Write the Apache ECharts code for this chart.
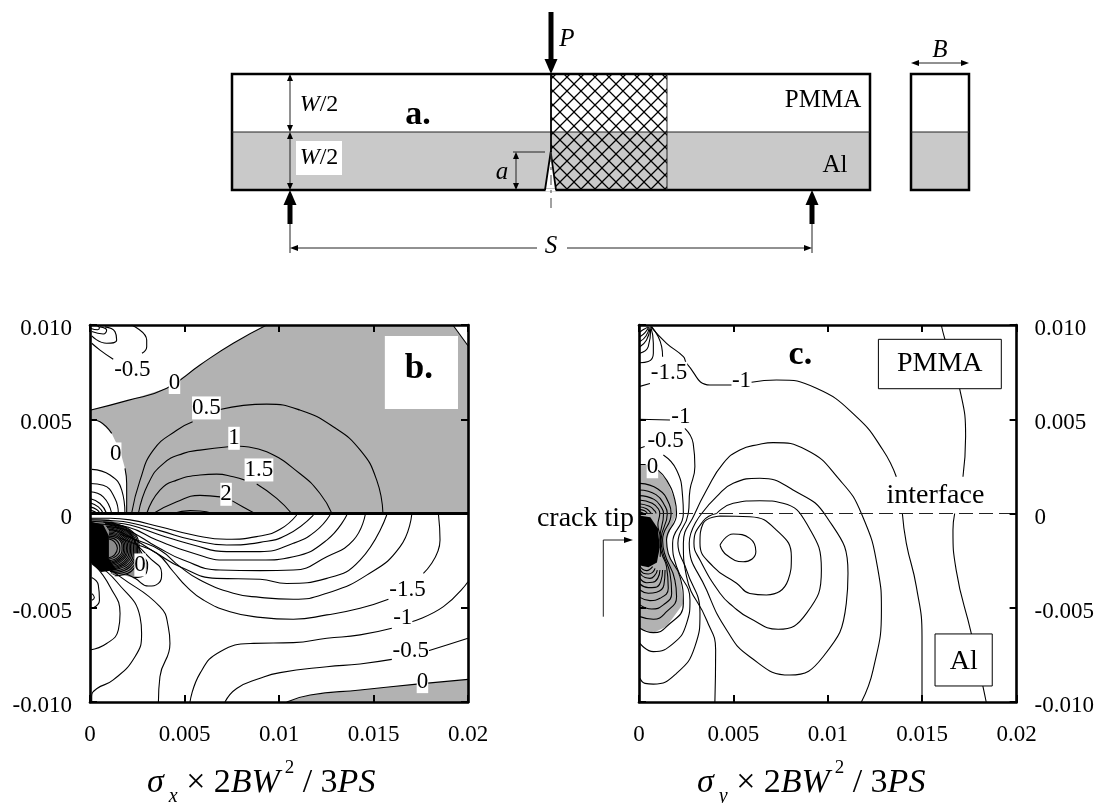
<!DOCTYPE html>
<html><head><meta charset="utf-8">
<style>html,body{margin:0;padding:0;background:#fff}#c{width:1097px;height:803px}</style>
<script src="https://cdn.jsdelivr.net/npm/echarts@6/dist/echarts.min.js"></script>
</head><body><div id="c"></div>
<script>
// ---------- tick labels ----------
const xTickLabels = ['0','0.005','0.01','0.015','0.02'];
const yTickLabels = ['-0.010','-0.005','0','0.005','0.010'];

// ---------- panel b (values in units of 0.001) ----------
const bGrayUpper = [[0,5.48],[2,6.0],[4.06,6.64],[5.82,7.88],[7.58,9.03],[9.35,10],[19.2,10],[20,8.9],[20,0],[1.94,0],[1.94,1.6],[1.85,2.4],[1.6,3.3],[1.15,4.25],[.53,4.87],[0,5.0]];
const bGrayLower = [[0,-.25],[1.0,-.3],[2.1,-1.0],[2.85,-2.3],[3.05,-2.7],[2.95,-3.2],[2.3,-3.4],[1.4,-3.2],[.4,-2.6],[0,-2.4]];
const bGrayBottom = [[10.41,-10],[11.65,-9.63],[14.29,-9.36],[17.29,-9.05],[20,-8.8],[20,-10]];
const bBlack = [[0,-.42],[.7,-.6],[1.0,-1.2],[1.0,-2.4],[1.4,-3.0],[.6,-3.1],[.1,-2.7],[0,-2.5]];
const bContoursUpper = [
 [[0,5.48],[2,6.0],[4.06,6.64],[5.82,7.88],[7.58,9.03],[9.35,10]],
 [[19.2,10],[20,8.9]],
 [[1.94,0],[1.94,1.6],[1.85,2.4]],
 [[1.15,4.25],[.53,4.87],[0,5.0]],
 [[2.2,0],[2.65,1.77],[3.35,3.36],[4.59,4.42],[5.43,4.87]],
 [[6.88,5.52],[9.35,5.8],[11.1,5.49],[12.87,4.6],[14.3,3.36],[15.17,1.77],[15.5,0]],
 [[2.56,0],[3.09,1.6],[3.88,2.65],[4.94,3.19],[5.82,3.36],[7.32,3.54]],
 [[7.94,3.57],[9.35,3.27],[11.1,2.12],[12.17,1.06],[12.8,0]],
 [[3.0,0],[3.7,1.24],[4.59,1.77],[5.82,2.04],[6.7,2.09],[7.58,1.95],[8.2,1.77]],
 [[8.82,1.56],[9.88,.8],[10.67,0]],
 [[3.35,0],[4.59,.62],[5.82,.96],[6.88,.88]],
 [[7.53,.67],[8.1,.35],[8.73,0]],
 [[4.4,0],[5.3,.15],[5.82,.13],[6.5,0]],
 [[.1,2.34],[1.06,2.04],[1.68,1.24],[1.85,0]],
 [[0,1.59],[.7,1.5],[1.32,.8],[1.5,0]],
 [[0,1.15],[.7,.88],[1.15,0]],
 [[0,.8],[.53,.53],[.88,0]],
 [[0,.57],[.44,.35],[.7,0]],
 [[0,.35],[.35,.21],[.53,0]],
 [[0,.18],[.26,.09],[.35,0]],
 [[2.2,10],[3.0,9.2],[3.0,8.85],[2.75,8.5]],
 [[.09,9.03],[.53,8.67],[1.23,8.18]],
 [[.09,9.42],[.88,9.03],[1.41,9.2],[1.32,9.65],[.79,9.9]],
 [[.09,9.65],[.7,9.52],[.88,9.73],[.53,9.9]],
 [[.05,9.82],[.4,9.75],[.5,9.85],[.3,10]]
];
const bContoursLower = [
 [[0,-.25],[1.06,-.25],[2.12,-.34],[3.7,-.7],[5.47,-1.14],[7.23,-1.37],[9,-1.19],[10.06,-.84],[10.94,-.08]],
 [[0,-.33],[1.06,-.38],[2.12,-.49],[3.7,-.91],[5.47,-1.41],[7.23,-1.67],[9,-1.53],[10.41,-1.14],[11.82,-.08]],
 [[0,-.41],[1.06,-.48],[2.12,-.61],[3.7,-1.14],[5.47,-1.67],[7.23,-2.02],[9,-2.02],[10.76,-1.58],[11.91,-.96],[12.7,-.08]],
 [[0,-.5],[1,-.6],[2.03,-.73],[3.53,-1.41],[5.47,-2.11],[7.23,-2.47],[9,-2.47],[10.76,-2.29],[12.53,-1.41],[13.59,-.08]],
 [[.9,-.7],[1.94,-.88],[3.53,-1.76],[4.94,-2.47],[6.88,-3.0],[9,-3.03],[10.76,-3.0],[12.53,-2.29],[13.94,-1.41],[14.56,-.08]],
 [[1.0,-.85],[1.76,-1.05],[3.53,-2.11],[4.76,-2.82],[6.7,-3.44],[9,-3.49],[10.41,-3.71],[12.53,-3.44],[14.29,-2.47],[15.7,-.08]],
 [[1.6,-1.1],[2.47,-1.41],[3.7,-1.94],[4.76,-2.82],[5.82,-3.53],[7.58,-4.23],[9,-4.45],[10.76,-4.55],[12.53,-4.23],[14.64,-3.27],[16.41,-1.76],[17.02,-.08]],
 [[1.6,-1.3],[2.29,-1.58],[3.53,-2.11],[4.41,-3.09],[5.11,-3.88],[6,-4.59],[7.41,-5.21],[9,-5.51],[10.76,-5.61],[12.53,-5.38],[14.29,-5.03],[15.79,-4.55]],
 [[17.64,-3.18],[18.52,-1.41],[18.44,-.08]],
 [[5.29,-10],[5.82,-8.48],[6.88,-7.33],[8.64,-6.89],[10.76,-6.85],[12.53,-6.62],[14.29,-6.44],[15.97,-6.09]],
 [[17.02,-5.74],[18.7,-4.94],[20,-3.62]],
 [[7.14,-10],[7.76,-9.28],[9,-8.74],[10.06,-8.44],[12.53,-8.13],[14.29,-7.98],[15.97,-7.74]],
 [[17.91,-7.28],[18.88,-6.98],[20,-6.62]],
 [[10.41,-10],[11.65,-9.63],[14.29,-9.36],[17.29,-9.05],[20,-8.8]],
 [[2.4,-1.6],[3.09,-2.29],[3.79,-3.17],[3.62,-3.71],[3.09,-3.85],[2.38,-3.44],[1.9,-3.2]],
 [[2.1,-1.0],[2.85,-2.3],[3.05,-2.7],[2.95,-3.2],[2.3,-3.4]],
 [[.53,-2.6],[1.59,-3.35],[3.7,-4.94],[4.14,-6.0],[4.23,-6.9],[3.7,-8.66],[3.62,-10]],
 [[.35,-2.7],[1.41,-3.62],[2.65,-5.5],[2.73,-6.36],[2.38,-7.6],[1.23,-8.83],[.35,-9.3],[.09,-9.7],[.09,-10]],
 [[.26,-2.75],[1.06,-3.88],[1.59,-5.3],[1.5,-6.18],[.88,-6.9],[0,-7.24]],
 [[.09,-3.4],[.44,-3.8],[.5,-4.6],[.18,-5.0]],
 [[.1,-4.25],[.23,-4.45],[.1,-4.6]],
 [[1.0,-1.35],[1.3,-1.5],[1.45,-1.85],[1.3,-2.2],[1.0,-2.35]],
 [[1.0,-1.28],[1.4,-1.42],[1.58,-1.85],[1.4,-2.25],[1.0,-2.42]],
 [[1.0,-1.2],[1.5,-1.35],[1.7,-1.85],[1.5,-2.3],[1.0,-2.5]],
 [[1.0,-1.12],[1.55,-1.3],[1.78,-1.85],[1.55,-2.35],[1.0,-2.58]],
 [[1.0,-1.05],[1.6,-1.25],[1.85,-1.85],[1.6,-2.4],[1.0,-2.65]],
 [[1.0,-.98],[1.65,-1.2],[1.93,-1.85],[1.65,-2.45],[1.0,-2.72]],
 [[1.0,-.9],[1.7,-1.15],[2.0,-1.85],[1.7,-2.5],[1.0,-2.78]],
 [[.95,-.82],[1.75,-1.1],[2.08,-1.85],[1.78,-2.55],[1.0,-2.84]],
 [[.9,-.75],[1.8,-1.05],[2.15,-1.85],[1.85,-2.6],[1.0,-2.9]],
 [[.85,-.68],[1.85,-1.0],[2.22,-1.85],[1.92,-2.65],[1.0,-2.95]],
 [[.8,-.6],[1.9,-.95],[2.3,-1.85],[2.0,-2.7],[1.0,-3.0]],
 [[.8,-.56],[1.95,-.92],[2.38,-1.85],[2.05,-2.78],[1.05,-3.08]],
 [[.8,-.52],[2.0,-.9],[2.45,-1.85],[2.1,-2.85],[1.1,-3.15]],
 [[.75,-.48],[2.05,-.87],[2.52,-1.85],[2.15,-2.95],[1.2,-3.22]],
 [[.7,-.45],[2.1,-.85],[2.6,-1.85],[2.2,-3.05],[1.3,-3.3]]
];
const bLabels = [['-0.5',2.24,7.62],['0',4.47,6.95],['0.5',6.16,5.6],['1',7.62,3.99],['1.5',8.94,2.31],['2',7.2,1.02],['0',1.36,3.16],['0',2.65,-2.73],['-1.5',16.8,-4.06],['-1',16.55,-5.56],['-0.5',16.97,-7.3],['0',17.59,-8.92]];
const bLetterBox = [[15.6,9.42],[19.47,9.42],[19.47,5.54],[15.6,5.54]];
const bLetter = [['b.',17.4,7.65]];
const bInterface = [[0,0],[20,0]];

// ---------- panel c (values in units of 0.001) ----------
const cGray = [[0,2.6],[.35,2.6],[1.0,2.3],[1.46,1.78],[1.9,.72],[1.99,0],[1.46,-1.41],[1.55,-2.11],[2.17,-3.35],[2.35,-4.77],[1.46,-6.0],[.76,-6.32],[.05,-6.09],[0,-6.0]];
const cBlack = [[0,-.1],[.6,-.2],[1.0,-.8],[1.1,-1.8],[.95,-2.6],[.5,-2.85],[0,-2.75]];
const cContours = [
 [[16.01,10],[16.19,9.29],[16.98,6.64],[17.3,4.08],[17.16,1.95]],
 [[16.72,0],[16.63,-.88],[16.8,-3],[17.6,-6.36],[18.22,-9.19],[18.39,-10]],
 [[.62,9.91],[1.46,9.03],[2.35,8.32],[2.52,7.97],[3.76,6.82],[4.9,6.82]],
 [[5.96,6.96],[7.28,7.08],[9.4,6.64],[11.51,5.14],[12.92,3.37],[13.63,1.95]],
 [[13.95,0],[14.16,-1.58],[14.69,-3.88],[14.99,-6.53],[14.99,-10]],
 [[4.02,-10],[4.06,-7.24],[3.58,-5.65],[2.52,-3.35],[2.35,-1.58],[2.96,0],[3.58,1.25],[4.46,2.66],[5.34,3.37],[6.4,3.67],[7.1,3.76],[8.87,3.37],[10.63,1.78],[11.78,0],[12.66,-3.0],[12.84,-5.12],[12.4,-8.3],[11.78,-10]],
 [[3.32,0],[4.11,.89],[4.99,1.6],[6.4,1.87],[8.16,1.25],[9.93,-.17],[11.07,-3.17],[10.98,-4.77],[9.75,-7.6],[7.99,-8.57],[5.87,-7.6],[4.64,-6.18],[3.58,-4.06],[2.66,-1.58],[3.32,0]],
 [[4.11,0],[4.99,.54],[6.4,.68],[7.63,.54],[8.87,-.52],[9.66,-3.0],[8.87,-5.3],[7.37,-6.14],[5.87,-5.56],[4.99,-4.94],[4.29,-4.23],[3.23,-2.47],[2.91,-1.58],[3.4,-.4],[4.11,0]],
 [[4.29,-.13],[5.87,-.17],[7.28,-.88],[8.07,-2.29],[7.9,-3.53],[6.75,-4.32],[5.87,-4.24],[5.17,-3.7],[3.93,-2.82],[3.23,-1.58],[3.4,-.52],[4.29,-.13]],
 [[4.29,-1.67],[4.99,-1.09],[5.87,-1.32],[6.19,-2.02],[5.52,-2.56],[4.64,-2.2],[4.29,-1.67]],
 [[0,2.6],[.35,2.6]],
 [[1.0,2.3],[1.46,1.78],[1.9,.72],[1.99,0],[1.46,-1.41],[1.55,-2.11],[2.17,-3.35],[2.35,-4.77],[1.46,-6.0],[.76,-6.32],[.05,-6.09]],
 [[1.29,3.1],[1.99,2.31],[2.31,.89],[2.35,0],[1.78,-1.58],[1.99,-2.82],[2.7,-4.59],[2.52,-5.83],[1.82,-6.89],[.76,-7.33],[.05,-6.89]],
 [[0,3.45],[.3,3.55]],
 [[2.43,4.52],[2.87,3.72],[2.96,2.49],[2.7,1.25],[2.61,0],[2.06,-1.58],[2.52,-3],[3.23,-5.3],[2.96,-7.06],[1.99,-8.48],[.76,-9.05],[.32,-9.01],[.05,-8.74]],
 [[0,5.0],[1.64,4.96]],
 [[0,6.73],[.58,6.9]],
 [[.67,9.91],[1.2,8.85],[1.25,8.32]],
 [[.05,8.0],[.49,8.06],[.76,8.5],[.76,9.03],[.62,9.91]],
 [[.05,8.5],[.49,8.85],[.62,9.82]],
 [[.05,8.85],[.4,9.2],[.58,9.82]],
 [[.05,9.12],[.37,9.42],[.55,9.88]],
 [[.05,9.38],[.32,9.6],[.51,9.88]],
 [[.05,9.63],[.26,9.77],[.49,9.9]],
 [[.05,1.6],[1.0,1.3],[1.6,.5],[1.7,0],[1.25,-1.41],[1.35,-2.11],[1.9,-3.53],[1.99,-4.41],[1.46,-5.21],[.76,-5.61],[.05,-5.47]],
 [[0,1.25],[.9,1.0],[1.4,.35],[1.5,0],[1.17,-1.4],[1.27,-2.1],[1.64,-3.17],[1.73,-4.23],[1.29,-4.85],[.67,-5.07],[.05,-4.85]],
 [[0,.95],[.8,.75],[1.2,.3],[1.3,0],[1.1,-1.4],[1.2,-2.1],[1.46,-2.82],[1.55,-3.97],[1.11,-4.5],[.58,-4.62],[.05,-4.45]],
 [[0,.72],[.7,.55],[1.05,.2],[1.1,0],[1.0,-.6],[1.15,-1.4],[1.12,-2.3]],
 [[0,.52],[.55,.38],[.85,.12],[.9,0]],
 [[0,.36],[.4,.25],[.65,0]],
 [[0,.22],[.3,.14],[.45,0]],
 [[0,.1],[.15,.05],[.25,0]],
 [[1.38,-3.0],[1.32,-3.79],[.93,-4.18],[.49,-4.23],[.05,-4.06]],
 [[1.25,-3.0],[1.15,-3.62],[.85,-3.92],[.49,-3.93],[.05,-3.74]],
 [[1.11,-3.0],[.99,-3.44],[.72,-3.65],[.41,-3.67],[.05,-3.44]],
 [[.97,-3.0],[.85,-3.26],[.58,-3.44],[.32,-3.4],[.05,-3.17]],
 [[.85,-2.91],[.72,-3.12],[.49,-3.21],[.23,-3.17],[.05,-2.96]],
 [[.72,-2.82],[.58,-2.96],[.41,-3.03],[.19,-2.96],[.05,-2.78]]
];
const cLabels = [['-1.5',1.59,7.44],['-1',2.22,5.14],['-0.5',1.41,3.85],['0',.71,2.48],['-1',5.43,7.03]];
const cLetter = [['c.',8.55,8.41]];
const cBoxPMMA = [[12.68,9.24],[19.19,9.24],[19.19,6.62],[12.68,6.62]];
const cBoxAl = [[15.68,-6.39],[18.71,-6.39],[18.71,-9.15],[15.68,-9.15]];
const cBigLabels = [['PMMA',15.93,7.93],['Al',17.2,-7.85],['interface',15.7,.95]];
const cInterface = [[0,0],[20,0]];

// ---------- schematic, panel a (drawing units) ----------
const beamLowerHalf = [[232,132],[870,132],[870,190],[232,190]];
const beamOutline = [[232,74],[870,74],[870,190],[232,190]];
const hatchZone = [[551,74],[667,74],[667,190],[551,190]];
const notch = [[545,190],[550.7,152],[556,190]];
const notchBase = [[545.5,189],[555.5,189],[555.5,191.5],[545.5,191.5]];
const sideOutline = [[911,74],[969,74],[969,190],[911,190]];
const sideLowerHalf = [[911,132],[969,132],[969,190],[911,190]];
const wLabelBox = [[296,141],[342,141],[342,175],[296,175]];
const thinLines = [
 [[232,132],[870,132]],[[911,132],[969,132]],
 [[290,78],[290,128]],[[290,136],[290,186]],
 [[513,152],[545,152]],[[516,156],[516,186]],
 [[290,224],[290,253]],[[812,224],[812,253]],
 [[296,248],[537,248]],[[567,248],[806,248]],
 [[917,63],[963,63]],[[667,74],[667,190]]
];
const thickShafts = [[[551,12],[551,60]],[[290,204],[290,224]],[[812,204],[812,224]]];
const edgeLines = [[[551,74],[551,152]],[[545,190],[550.7,152],[556,190]]];
const arrowHeads = [
 [[544.5,59],[557.5,59],[551,74]],
 [[283.5,205],[296.5,205],[290,190]],[[805.5,205],[818.5,205],[812,190]],
 [[287,81],[293,81],[290,74]],[[287,125],[293,125],[290,132]],
 [[287,139],[293,139],[290,132]],[[287,183],[293,183],[290,190]],
 [[513,159],[519,159],[516,152]],[[513,183],[519,183],[516,190]],
 [[298,245],[298,251],[290,248]],[[804,245],[804,251],[812,248]],
 [[919,60],[919,66],[911,63]],[[961,60],[961,66],[969,63]]
];
const centerDash = [[551,152],[551,213]];
const aBig = [['a.',418,115]];
const aNames = [['PMMA',823,100],['Al',835,165]];
const aItalic = [['P',567,39],['S',551,246],['a',502,172],['B',940,50]];
const aW = [['{i|W}/2',319,105],['{i|W}/2',319,158]];
const crackArrowPath = [[603.3,616.7],[603.3,540],[626,540]];
const crackArrowHead = [[624,537],[624,543],[633,540]];
const crackLabel = [['crack tip',585.5,519]];

// ---------- build ----------
const FONT = '"Liberation Serif","Times New Roman",serif';
const milli = p => [p[0]/1000, p[1]/1000];
const same = p => p;
const series = [];

function addLine(pts, ax, conv, o){
  o = o || {};
  series.push({type:'line', xAxisIndex:ax, yAxisIndex:ax, data:pts.map(conv), showSymbol:false, symbol:'none',
    smooth:o.smooth||0, silent:true, animation:false, z:o.z||3, clip:true,
    lineStyle:{color:o.color||'#000', width:o.width||1.1, type:o.type||'solid', cap:'butt', join:'round'}});
}
function addPoly(pts, ax, conv, o){
  const p = pts.map(conv);
  series.push({type:'custom', xAxisIndex:ax, yAxisIndex:ax, data:[p[0]], silent:true, animation:false, z:o.z||1,
    renderItem:function(params, api){
      return {type:'polygon', shape:{points:p.map(q=>api.coord(q))},
        style:{fill:o.fill||'none', stroke:o.stroke||'none', lineWidth:o.lw||0}};
    }});
}
function addText(list, ax, conv, o){
  series.push({type:'scatter', xAxisIndex:ax, yAxisIndex:ax, symbolSize:1, silent:true, animation:false, z:o.z||6,
    itemStyle:{color:'transparent',opacity:1},
    data:list.map(t=>({name:t[0], value:conv([t[1],t[2]])})),
    label:{show:true, position:'inside', formatter:p=>p.name, color:'#000', opacity:1, fontFamily:FONT,
      fontSize:o.size||23, fontWeight:o.weight||'normal', fontStyle:o.style||'normal',
      backgroundColor:o.bg||'transparent', padding:0, lineHeight:o.lh||o.size||23, rich:o.rich}});
}

// hatch pattern tile
const tile = document.createElement('canvas'); tile.width = 14; tile.height = 14;
(function(){const g=tile.getContext('2d'); g.strokeStyle='#000'; g.lineWidth=1.25;
 g.beginPath(); g.moveTo(0,0); g.lineTo(14,14); g.moveTo(14,0); g.lineTo(0,14); g.stroke();})();
const hatch = {image:tile, repeat:'repeat'};

// panel a
addPoly(beamLowerHalf,4,same,{fill:'#c9c9c9',z:1});
addPoly(sideLowerHalf,4,same,{fill:'#c9c9c9',z:1});
addPoly(hatchZone,4,same,{fill:hatch,z:2});
addPoly(notch,4,same,{fill:'#fff',z:3});
thinLines.forEach(l=>addLine(l,4,same,{width:1,color:'#222',z:3}));
addPoly(beamOutline,4,same,{stroke:'#000',lw:2.5,z:3});
addPoly(sideOutline,4,same,{stroke:'#000',lw:2.5,z:3});
addPoly(notchBase,4,same,{fill:'#fff',z:4});
edgeLines.forEach(l=>addLine(l,4,same,{width:1.8,z:4}));
addLine(centerDash,4,same,{width:1,color:'#444',type:[10,5,3,5],z:4});
thickShafts.forEach(l=>addLine(l,4,same,{width:5,z:4}));
arrowHeads.forEach(h=>addPoly(h,4,same,{fill:'#000',z:5}));
addPoly(wLabelBox,4,same,{fill:'#fff',z:5});
addText(aBig,4,same,{size:34,weight:'bold',z:6});
addText(aNames,4,same,{size:25,z:6});
addText(aItalic,4,same,{size:25,style:'italic',z:6});
addText(aW,4,same,{size:24,z:6,rich:{i:{fontStyle:'italic',fontSize:24,fontFamily:FONT,color:'#000'}}});
addLine(crackArrowPath,4,same,{width:1,color:'#222',z:4});
addPoly(crackArrowHead,4,same,{fill:'#000',z:5});
addText(crackLabel,4,same,{size:28,z:6});

// panel b
addPoly(bGrayUpper,0,milli,{fill:'#b2b2b2',z:1});
addPoly(bGrayLower,0,milli,{fill:'#8c8c8c',z:1});
addPoly(bGrayBottom,0,milli,{fill:'#b2b2b2',z:1});
addPoly(bBlack,0,milli,{fill:'#000',z:2});
bContoursUpper.concat(bContoursLower).forEach(l=>addLine(l,0,milli,{smooth:.5}));
addLine(bInterface,0,milli,{width:3,z:4});
addPoly(bLetterBox,0,milli,{fill:'#fff',z:5});
addText(bLabels,0,milli,{size:23,bg:'#fff'});
addText(bLetter,0,milli,{size:35,weight:'bold'});

// panel c
addPoly(cGray,2,milli,{fill:'#b2b2b2',z:1});
addPoly(cBlack,2,milli,{fill:'#000',z:2});
cContours.forEach(l=>addLine(l,2,milli,{smooth:.5}));
addLine(cInterface,2,milli,{width:1.2,color:'#222',type:[14,6],z:4});
addPoly(cBoxPMMA,2,milli,{fill:'#fff',stroke:'#000',lw:1,z:5});
addPoly(cBoxAl,2,milli,{fill:'#fff',stroke:'#000',lw:1,z:5});
addText(cLabels,2,milli,{size:23,bg:'#fff'});
addText(cLetter,2,milli,{size:34,weight:'bold'});
addText(cBigLabels,2,milli,{size:28});

function xAx(grid,pos,labels){
  return {type:'value',gridIndex:grid,position:pos,min:0,max:0.02,interval:0.005,z:8,
    axisLine:{show:true,onZero:false,lineStyle:{color:'#000',width:2.6}},
    axisTick:{show:true,inside:true,length:7,lineStyle:{color:'#000',width:2}},
    splitLine:{show:false},
    axisLabel:{show:labels,color:'#000',fontFamily:FONT,fontSize:23,margin:21,
      formatter:(v,i)=>xTickLabels[i]}};
}
function yAx(grid,pos,labels){
  return {type:'value',gridIndex:grid,position:pos,min:-0.01,max:0.01,interval:0.005,z:8,
    axisLine:{show:true,onZero:false,lineStyle:{color:'#000',width:2.6}},
    axisTick:{show:true,inside:true,length:7,lineStyle:{color:'#000',width:2}},
    splitLine:{show:false},
    axisLabel:{show:labels,color:'#000',margin:18,align:pos==='left'?'right':'left',
      rich:{t:{fontFamily:FONT,fontSize:23,color:'#000',padding:[8,0,0,0]}},
      formatter:(v,i)=>'{t|'+yTickLabels[i]+'}'}};
}
const titleRich = {
  i:{fontFamily:FONT,fontStyle:'italic',fontWeight:'normal',fontSize:34,lineHeight:48,color:'#000'},
  n:{fontFamily:FONT,fontWeight:'normal',fontSize:34,lineHeight:48,color:'#000'},
  s:{fontFamily:FONT,fontStyle:'italic',fontWeight:'normal',fontSize:20,lineHeight:20,verticalAlign:'bottom',color:'#000'},
  u:{fontFamily:FONT,fontWeight:'normal',fontSize:19,lineHeight:19,verticalAlign:'top',color:'#000'}
};
function titleText(sub){return '{i|σ}{s| '+sub+'}{n| × 2}{i|BW}{u| 2}{n| / 3}{i|PS}';}

const option = {
  backgroundColor:'#fff', animation:false,
  title:[
    {left:147,top:759,padding:0,text:titleText('x'),textStyle:{rich:titleRich}},
    {left:697,top:759,padding:0,text:titleText('y'),textStyle:{rich:titleRich}}
  ],
  grid:[
    {left:90,top:325,width:378,height:377},
    {left:639,top:325,width:378,height:377},
    {left:0,top:0,width:1097,height:803}
  ],
  xAxis:[xAx(0,'bottom',true),xAx(0,'top',false),xAx(1,'bottom',true),xAx(1,'top',false),
    {type:'value',gridIndex:2,min:0,max:1097,show:false}],
  yAxis:[yAx(0,'left',true),yAx(0,'right',false),yAx(1,'left',false),yAx(1,'right',true),
    {type:'value',gridIndex:2,min:0,max:803,inverse:true,show:false}],
  series:series
};
const chart = echarts.init(document.getElementById('c'),null,{renderer:'canvas',width:1097,height:803});
chart.setOption(option);
</script></body></html>
